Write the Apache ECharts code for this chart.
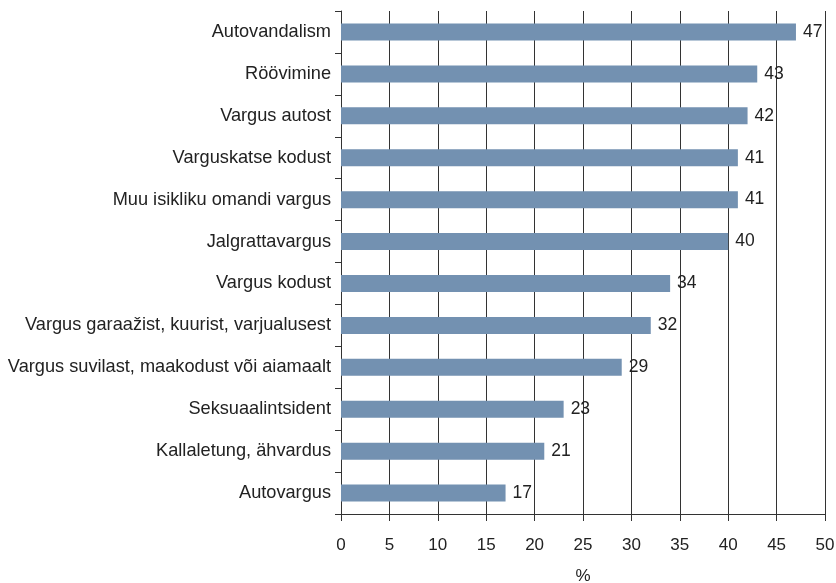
<!DOCTYPE html>
<html><head><meta charset="utf-8">
<script src="https://cdn.jsdelivr.net/npm/echarts@6/dist/echarts.min.js"></script>
<style>html,body{margin:0;padding:0;background:#fff}#c{width:836px;height:583px}</style>
</head><body><div id="c"></div>
<script>
const categories = ["Autovandalism","Röövimine","Vargus autost","Varguskatse kodust","Muu isikliku omandi vargus","Jalgrattavargus","Vargus kodust","Vargus garaažist, kuurist, varjualusest","Vargus suvilast, maakodust või aiamaalt","Seksuaalintsident","Kallaletung, ähvardus","Autovargus"];
const values = [47,43,42,41,41,40,34,32,29,23,21,17];
const xTicks = [0,5,10,15,20,25,30,35,40,45,50];
const axisTitle = "%";

const chart = echarts.init(document.getElementById('c'));
const font = "'Liberation Sans', Arial, sans-serif";
chart.setOption({
  animation:false,
  grid:{left:341,right:11,top:11,bottom:69,containLabel:false,outerBoundsMode:'none'},
  xAxis:{type:'value',min:xTicks[0],max:xTicks[xTicks.length-1],interval:5,
    name:axisTitle,nameLocation:'middle',nameGap:54,
    nameTextStyle:{fontFamily:font,fontSize:17,color:'#222'},
    axisLine:{show:true,lineStyle:{color:'#333',width:1}},
    axisTick:{show:true,length:7,lineStyle:{color:'#333'}},
    axisLabel:{fontFamily:font,fontSize:17,color:'#222',margin:23},
    splitLine:{show:true,lineStyle:{color:'#333',width:1}}},
  yAxis:{type:'category',data:categories,inverse:true,
    axisLine:{show:true,lineStyle:{color:'#333',width:1}},
    axisTick:{show:true,length:6,lineStyle:{color:'#333'}},
    axisLabel:{fontFamily:font,fontSize:18.2,color:'#222',margin:10},
    splitLine:{show:false}},
  series:[{type:'bar',data:values,barWidth:17,
    itemStyle:{color:'#7391B1'},
    label:{show:true,position:'right',distance:7,fontFamily:font,fontSize:17.5,color:'#222'}}]
});
</script></body></html>
